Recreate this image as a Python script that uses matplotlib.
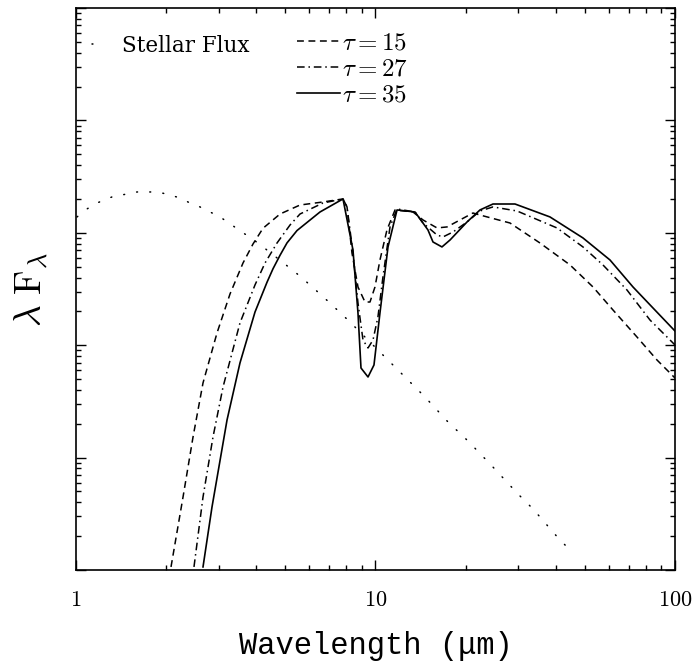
import numpy as np
import matplotlib
matplotlib.use("Agg")
import matplotlib.pyplot as plt
from matplotlib.ticker import LogLocator, NullFormatter, FixedLocator, FixedFormatter

plt.rcParams['mathtext.fontset'] = 'cm'
plt.rcParams['font.family'] = 'DejaVu Serif'

# Stellar flux (dotted), wavelength in micron, log10 of lambda*F_lambda (arbitrary zero)
star_wl = [1.008, 1.088, 1.175, 1.319, 1.598, 1.794, 1.937, 2.060, 2.224, 2.402,
           2.594, 3.026, 4.052, 5.386, 6.044, 7.047, 8.155, 10.92, 13.55, 14.63,
           17.46, 20.36, 24.49, 29.91, 33.57, 41.00, 43.93]
star_lf = [3.141, 3.212, 3.265, 3.319, 3.363, 3.363, 3.354, 3.336, 3.310, 3.265,
           3.230, 3.141, 2.909, 2.651, 2.536, 2.375, 2.215, 1.877, 1.628, 1.539,
           1.317, 1.148, 0.925, 0.676, 0.543, 0.276, 0.196]

# tau = 15 (dashed)
t15_wl = [2.076, 2.277, 2.459, 2.655, 2.957, 3.268, 3.611, 3.899, 4.211, 4.800,
          5.597, 6.679, 7.789, 8.034, 8.346, 8.740, 9.224, 9.585, 9.961, 10.35,
          10.92, 11.62, 13.34, 14.41, 16.05, 17.33, 19.15, 21.16, 22.33, 28.12,
          35.42, 44.61, 53.23, 62.09, 74.65, 87.10, 100.0]
t15_lf = [0.027, 0.649, 1.183, 1.664, 2.109, 2.456, 2.731, 2.900, 3.040, 3.167,
          3.247, 3.274, 3.301, 3.230, 2.820, 2.518, 2.384, 2.384, 2.518, 2.758,
          3.025, 3.203, 3.185, 3.114, 3.043, 3.052, 3.114, 3.176, 3.158, 3.087,
          2.909, 2.714, 2.518, 2.313, 2.073, 1.868, 1.708]

# tau = 27 (dash-dot)
t27_wl = [2.477, 2.655, 2.867, 3.097, 3.528, 3.960, 4.277, 4.690, 5.183, 5.597,
          6.679, 7.789, 8.034, 8.410, 8.740, 9.084, 9.441, 9.810, 10.19, 10.59,
          11.18, 11.80, 13.55, 14.41, 16.05, 16.80, 18.15, 20.21, 22.33, 24.68,
          29.68, 40.36, 49.29, 57.47, 69.14, 82.51, 94.04, 100.0]
t27_lf = [0.027, 0.649, 1.183, 1.628, 2.198, 2.536, 2.731, 2.909, 3.069, 3.167,
          3.265, 3.301, 3.230, 2.820, 2.375, 2.046, 1.975, 2.046, 2.251, 2.607,
          3.052, 3.212, 3.185, 3.087, 2.980, 2.963, 3.007, 3.096, 3.194, 3.230,
          3.194, 3.043, 2.874, 2.714, 2.491, 2.224, 2.073, 2.002]

# tau = 35 (solid)
t35_wl = [2.655, 2.845, 3.194, 3.528, 3.960, 4.343, 4.548, 4.800, 5.065, 5.470,
          6.527, 7.789, 8.410, 8.740, 8.945, 9.441, 9.885, 10.35, 11.01, 11.80,
          13.55, 14.97, 15.56, 16.67, 17.74, 20.21, 22.33, 24.68, 29.23, 38.24,
          49.29, 60.67, 72.40, 84.44, 100.0]
t35_lf = [0.027, 0.560, 1.335, 1.842, 2.295, 2.560, 2.680, 2.800, 2.910, 3.020,
          3.185, 3.301, 2.847, 2.287, 1.797, 1.717, 1.824, 2.287, 2.874, 3.203,
          3.185, 3.025, 2.918, 2.874, 2.936, 3.096, 3.203, 3.256, 3.256, 3.141,
          2.954, 2.758, 2.518, 2.331, 2.126]

tau_labels = [r'$\tau=15$', r'$\tau=27$', r'$\tau=35$']

fig = plt.figure(figsize=(6.96, 6.65), dpi=100)
ax = fig.add_axes([0.1092, 0.1429, 0.8606, 0.8451])

l_star, = ax.plot(star_wl, 10 ** np.array(star_lf), color='k', lw=1.1,
                  ls=(0, (0.6, 8)), dash_capstyle='round')
l15, = ax.plot(t15_wl, 10 ** np.array(t15_lf), color='k', lw=1.1, ls=(0, (4.5, 3)))
l27, = ax.plot(t27_wl, 10 ** np.array(t27_lf), color='k', lw=1.1,
               ls=(0, (5, 2.5, 1, 2.5)))
l35, = ax.plot(t35_wl, 10 ** np.array(t35_lf), color='k', lw=1.2)

ax.set_xscale('log')
ax.set_yscale('log')
ax.set_xlim(1, 100)
ax.set_ylim(1, 1e5)

ax.xaxis.set_major_locator(FixedLocator([1, 10, 100]))
ax.xaxis.set_major_formatter(FixedFormatter([r'$1$', r'$10$', r'$100$']))
ax.xaxis.set_minor_locator(LogLocator(base=10, subs=np.arange(2, 10)))
ax.xaxis.set_minor_formatter(NullFormatter())
ax.yaxis.set_major_locator(LogLocator(base=10, numticks=10))
ax.yaxis.set_minor_locator(LogLocator(base=10, subs=np.arange(2, 10), numticks=10))
ax.yaxis.set_major_formatter(NullFormatter())
ax.yaxis.set_minor_formatter(NullFormatter())

ax.tick_params(which='both', direction='in', top=True, right=True, width=1)
ax.tick_params(which='major', length=7, labelsize=16, pad=14)
ax.tick_params(which='minor', length=3.5)
for s in ax.spines.values():
    s.set_linewidth(1.2)

ax.set_xlabel('Wavelength (μm)', fontsize=22, family='Liberation Mono', labelpad=14)
ax.set_ylabel(r'$\lambda\ \mathrm{F}_{\lambda}$', fontsize=27, labelpad=4)

leg1 = ax.legend([l_star], ['Stellar Flux'], loc='upper left',
                 bbox_to_anchor=(0.026, 0.952), frameon=False, borderpad=0,
                 borderaxespad=0, handlelength=0.5, handletextpad=0.9,
                 prop={'family': 'DejaVu Serif', 'size': 15.5})
ax.add_artist(leg1)
ax.legend([l15, l27, l35], tau_labels,
          loc='upper left', bbox_to_anchor=(0.369, 0.958), frameon=False,
          borderpad=0, borderaxespad=0, handlelength=1.7, handletextpad=0.1,
          labelspacing=0.12, prop={'size': 18})

fig.savefig('out.png', dpi=100)
